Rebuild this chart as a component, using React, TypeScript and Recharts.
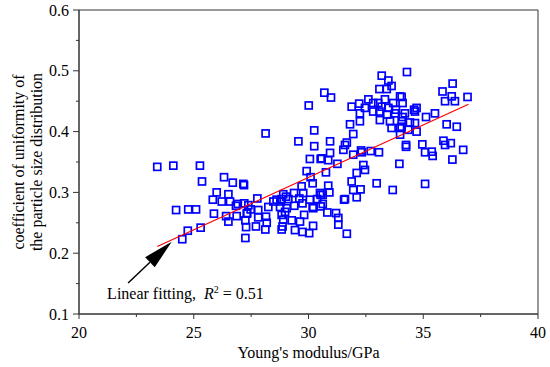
import React from 'react';
import { ScatterChart, Scatter, XAxis, YAxis, ReferenceLine, ReferenceArea } from 'recharts';

// Young's modulus (GPa) vs coefficient of uniformity
const modulus: number[] = [
  23.41, 24.11, 25.27, 26.32, 25.36, 26.70, 27.19, 26.00, 26.51, 25.83, 26.22, 26.58, 26.92, 27.20, 27.77,
  28.61, 28.83, 29.02, 24.23, 24.76, 25.10, 25.88, 26.41, 26.87, 27.33, 27.48, 27.81, 28.25, 26.51, 27.25,
  27.28, 27.71, 28.12, 28.15, 28.18, 28.90, 28.87, 25.30, 24.74, 24.50, 27.25, 28.76, 28.98, 28.13,
  26.84, 27.38, 28.79, 29.05, 29.38, 29.74, 30.18, 30.53, 27.31, 27.81, 28.83, 29.27, 29.63, 29.81, 28.83,
  29.41, 29.74, 30.03, 30.20,
  29.56, 30.25, 30.06, 30.53, 29.92, 30.09, 27.16, 29.70, 30.18, 30.50, 28.90, 29.12, 29.60, 29.77, 30.06,
  30.38, 28.47, 29.37, 30.21, 30.53,
  30.62, 31.55, 30.82, 31.20, 31.30, 31.30, 31.67,
  30.94, 31.59, 31.52, 30.94, 31.95, 32.32, 32.71, 33.07, 34.25, 30.57, 30.86, 31.26, 32.39, 32.46, 33.96,
  30.76, 32.10, 31.88, 32.97, 30.86, 31.95, 32.27, 33.67, 30.91, 30.62, 31.59, 32.10,
  30.01, 30.69, 30.25, 32.29,
  33.19, 34.29, 33.48, 33.62, 33.09, 33.41, 30.98, 32.61, 33.33, 33.99, 32.82, 33.04, 33.69, 34.10, 31.88,
  32.21, 32.46, 33.19, 33.48, 33.81, 32.24, 32.82, 33.09, 33.43, 33.77, 34.20, 34.60, 32.24, 31.81, 33.11,
  33.55, 34.06, 34.42, 33.62, 33.99, 34.35, 31.95, 31.67, 34.25,
  36.28, 35.84, 36.24, 36.93, 34.06, 35.95, 36.38, 34.71, 34.64, 35.51, 35.12, 34.10, 34.64, 36.02, 36.46,
  34.06, 34.71, 33.99, 35.88, 35.95, 36.20, 34.96, 35.08, 35.37, 35.41, 36.74, 36.27, 35.08,
];

const uniformity: number[] = [
  0.342, 0.344, 0.344, 0.325, 0.318, 0.316, 0.312, 0.300, 0.297, 0.288, 0.285, 0.285, 0.281, 0.282, 0.290,
  0.288, 0.289, 0.293, 0.271, 0.272, 0.272, 0.265, 0.261, 0.261, 0.266, 0.272, 0.271, 0.276, 0.252, 0.254,
  0.243, 0.244, 0.239, 0.260, 0.250, 0.255, 0.244, 0.242, 0.237, 0.223, 0.225, 0.276, 0.268, 0.397,
  0.278, 0.279, 0.285, 0.274, 0.278, 0.282, 0.276, 0.277, 0.265, 0.259, 0.263, 0.254, 0.252, 0.263, 0.239,
  0.238, 0.235, 0.233, 0.245,
  0.384, 0.376, 0.355, 0.355, 0.335, 0.325, 0.314, 0.310, 0.315, 0.299, 0.297, 0.289, 0.290, 0.299, 0.288,
  0.289, 0.285, 0.299, 0.274, 0.296,
  0.281, 0.288, 0.267, 0.266, 0.258, 0.247, 0.232,
  0.384, 0.378, 0.370, 0.365, 0.362, 0.366, 0.368, 0.366, 0.375, 0.356, 0.353, 0.347, 0.345, 0.337, 0.347,
  0.333, 0.332, 0.318, 0.315, 0.311, 0.304, 0.305, 0.304, 0.300, 0.296, 0.289, 0.292,
  0.443, 0.464, 0.402, 0.369,
  0.492, 0.498, 0.484, 0.475, 0.470, 0.470, 0.456, 0.453, 0.453, 0.458, 0.447, 0.447, 0.447, 0.447, 0.441,
  0.446, 0.439, 0.441, 0.439, 0.436, 0.430, 0.433, 0.433, 0.428, 0.430, 0.430, 0.436, 0.417, 0.412, 0.419,
  0.417, 0.417, 0.415, 0.406, 0.406, 0.403, 0.396, 0.382, 0.378,
  0.479, 0.466, 0.458, 0.457, 0.457, 0.450, 0.450, 0.439, 0.433, 0.430, 0.424, 0.424, 0.414, 0.412, 0.408,
  0.408, 0.400, 0.395, 0.385, 0.378, 0.381, 0.379, 0.366, 0.367, 0.360, 0.370, 0.354, 0.314,
];

// linear fit end points
const fitX: number[] = [23.41, 36.97];
const fitY: number[] = [0.211, 0.445];

// annotation arrow: tail and tip
const arrowTail = { x: 22.14, y: 0.151 };
const arrowTip = { x: 24.04, y: 0.219 };

const xTicks = [20, 22.5, 25, 27.5, 30, 32.5, 35, 37.5, 40];
const xMajor = [20, 25, 30, 35, 40];
const yTicks = [0.1, 0.15, 0.2, 0.25, 0.3, 0.35, 0.4, 0.45, 0.5, 0.55, 0.6];
const yMajor = [0.1, 0.2, 0.3, 0.4, 0.5, 0.6];

const points = modulus.map((x, i) => ({ x, y: uniformity[i] }));
const fitData = fitX.map((x, i) => ({ x, y: fitY[i] }));

const FONT = '"Liberation Serif", "Times New Roman", serif';
const AXIS = '#333';
const BLUE = '#0000ff';
const textStyle = { fontFamily: FONT, fontSize: 16, fill: '#000' };

const XTick = (props: any) => {
  const { x, y, payload } = props;
  const major = xMajor.includes(payload.value);
  return (
    <g>
      <line x1={x} y1={y} x2={x} y2={y + (major ? 5 : 3)} stroke={AXIS} />
      {major && (
        <text x={x} y={y + 24} textAnchor="middle" style={textStyle}>
          {payload.value}
        </text>
      )}
    </g>
  );
};

const YTick = (props: any) => {
  const { x, y, payload } = props;
  const major = yMajor.includes(payload.value);
  return (
    <g>
      <line x1={x} y1={y} x2={x - (major ? 6 : 3)} y2={y} stroke={AXIS} />
      {major && (
        <text x={x - 10} y={y + 5.5} textAnchor="end" style={textStyle}>
          {payload.value.toFixed(1)}
        </text>
      )}
    </g>
  );
};

const YTitle = (props: any) => {
  const vb = props.viewBox || { x: 0, y: 10, width: 79, height: 304 };
  const cy = vb.y + vb.height / 2;
  return (
    <g style={textStyle}>
      <text x={18} y={cy} textAnchor="middle" dominantBaseline="central" transform={`rotate(-90 18 ${cy})`} style={textStyle}>
        coefficient of uniformity of
      </text>
      <text x={36} y={cy} textAnchor="middle" dominantBaseline="central" transform={`rotate(-90 36 ${cy})`} style={textStyle}>
        the particle size distribution
      </text>
    </g>
  );
};

const XTitle = (props: any) => {
  const vb = props.viewBox || { x: 79, y: 314, width: 459, height: 53 };
  return (
    <text x={vb.x + vb.width / 2} y={358} textAnchor="middle" style={textStyle}>
      Young's modulus/GPa
    </text>
  );
};

const Square = (props: any) => {
  const { cx, cy } = props;
  if (cx == null || cy == null) return <g />;
  return <rect x={cx - 3.5} y={cy - 3.5} width={7} height={7} fill="none" stroke={BLUE} strokeWidth={1.7} />;
};

const Arrow = (props: any) => {
  const { x1, y1, x2, y2 } = props;
  const dx = x2 - x1;
  const dy = y2 - y1;
  const len = Math.sqrt(dx * dx + dy * dy) || 1;
  const ux = dx / len;
  const uy = dy / len;
  const bx = x2 - ux * 30;
  const by = y2 - uy * 30;
  const px = -uy * 7;
  const py = ux * 7;
  return (
    <g>
      <line x1={x1} y1={y1} x2={bx} y2={by} stroke="#000" strokeWidth={1.5} />
      <polygon points={`${x2},${y2} ${bx + px},${by + py} ${bx - px},${by - py}`} fill="#000" />
      <text x={x1 - 21} y={y1 + 16} style={textStyle}>
        Linear fitting,{'\u00a0\u00a0'}
        <tspan fontStyle="italic">R</tspan>
        <tspan dy={-6} fontSize={10} style={{ fontSize: 10 }}>2</tspan>
        <tspan dy={6}> = 0.51</tspan>
      </text>
    </g>
  );
};

export default function App() {
  return (
    <div style={{ position: 'absolute', left: 0, top: 0, width: 550, height: 367, background: '#fff' }}>
      <ScatterChart width={550} height={367} margin={{ top: 10, right: 12, bottom: 0, left: 0 }}>
        <XAxis
          type="number"
          dataKey="x"
          domain={[20, 40]}
          ticks={xTicks}
          interval={0}
          tickSize={0}
          tickMargin={0}
          tick={<XTick />}
          height={53}
          stroke={AXIS}
          label={{ content: XTitle }}
        />
        <YAxis
          type="number"
          dataKey="y"
          domain={[0.1, 0.6]}
          ticks={yTicks}
          interval={0}
          tickSize={0}
          tickMargin={0}
          tick={<YTick />}
          width={79}
          stroke={AXIS}
          label={{ content: YTitle }}
        />
        <ReferenceArea x1={20} x2={40} y1={0.1} y2={0.6} fill="none" stroke={AXIS} strokeWidth={1} />
        <Scatter data={points} shape={<Square />} isAnimationActive={false} />
        <Scatter
          data={fitData}
          line={{ stroke: '#ff0000', strokeWidth: 1.2 }}
          shape={() => <g />}
          isAnimationActive={false}
        />
        <ReferenceLine segment={[arrowTail, arrowTip]} shape={Arrow} />
      </ScatterChart>
    </div>
  );
}
